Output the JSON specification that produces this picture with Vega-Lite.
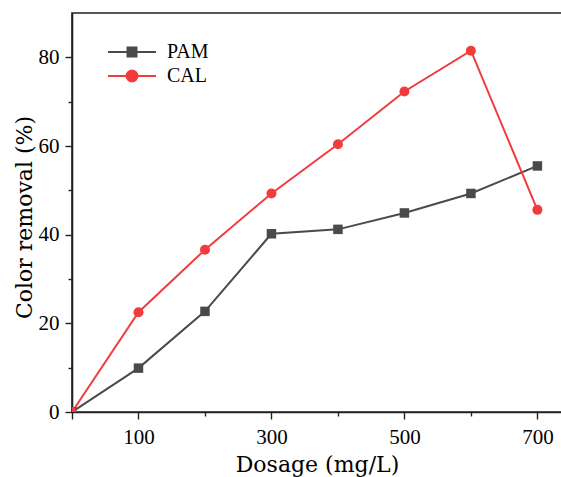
{
  "$schema": "https://vega.github.io/schema/vega-lite/v6.json",
  "autosize": {"type": "none"},
  "padding": {"left": 72, "top": 13, "right": 0, "bottom": 65},
  "width": 490,
  "height": 399,
  "background": "white",
  "config": {
    "view": {"stroke": "#222222", "strokeWidth": 1.6},
    "axis": {
      "domainColor": "#222222",
      "domainWidth": 1.6,
      "tickColor": "#222222",
      "tickWidth": 1.4,
      "labelColor": "#000000",
      "titleColor": "#000000",
      "labelFont": "Liberation Serif",
      "labelFontSize": 21,
      "titleFont": "DejaVu Serif",
      "titleFontSize": 22,
      "titleFontWeight": "normal",
      "grid": false,
      "zindex": 1
    }
  },
  "data": {
    "values": [
      {"Dosage": 0, "Removal": 0, "Series": "PAM"},
      {"Dosage": 100, "Removal": 9.9, "Series": "PAM"},
      {"Dosage": 200, "Removal": 22.7, "Series": "PAM"},
      {"Dosage": 300, "Removal": 40.2, "Series": "PAM"},
      {"Dosage": 400, "Removal": 41.2, "Series": "PAM"},
      {"Dosage": 500, "Removal": 44.9, "Series": "PAM"},
      {"Dosage": 600, "Removal": 49.3, "Series": "PAM"},
      {"Dosage": 700, "Removal": 55.5, "Series": "PAM"},
      {"Dosage": 0, "Removal": 0, "Series": "CAL"},
      {"Dosage": 100, "Removal": 22.5, "Series": "CAL"},
      {"Dosage": 200, "Removal": 36.6, "Series": "CAL"},
      {"Dosage": 300, "Removal": 49.3, "Series": "CAL"},
      {"Dosage": 400, "Removal": 60.4, "Series": "CAL"},
      {"Dosage": 500, "Removal": 72.3, "Series": "CAL"},
      {"Dosage": 600, "Removal": 81.5, "Series": "CAL"},
      {"Dosage": 700, "Removal": 45.6, "Series": "CAL"}
    ]
  },
  "resolve": {"axis": {"x": "independent", "y": "independent"}},
  "layer": [
    {
      "mark": {"type": "line", "strokeWidth": 2, "clip": true},
      "encoding": {
        "x": {
          "field": "Dosage", "type": "quantitative",
          "scale": {"domain": [0, 737], "nice": false, "zero": false},
          "axis": {"orient": "bottom", "values": [0, 100, 300, 500, 700], "labelExpr": "datum.value === 0 ? '' : datum.label", "tickSize": 7, "labelPadding": 7, "title": "Dosage (mg/L)", "titlePadding": 7}
        },
        "y": {
          "field": "Removal", "type": "quantitative",
          "scale": {"domain": [0, 90], "nice": false},
          "axis": {"orient": "left", "values": [0, 20, 40, 60, 80], "tickSize": 7, "labelPadding": 6, "title": "Color removal (%)", "titlePadding": 2, "titleY": 204}
        },
        "color": {
          "field": "Series", "type": "nominal",
          "scale": {"domain": ["PAM", "CAL"], "range": ["#4a4a4a", "#f23c3c"]},
          "legend": {
            "orient": "none",
            "legendX": 49,
            "legendY": 28,
            "title": null,
            "padding": 0,
            "symbolSize": 400,
            "symbolStrokeWidth": 2,
            "labelOffset": 24,
            "rowPadding": 3,
            "labelFont": "Liberation Serif",
            "labelFontSize": 20,
            "labelColor": "#000000",
            "encode": {
              "symbols": {
                "update": {
                  "shape": {"signal": "datum.value === 'PAM' ? 'M-2.4,0H2.4M-0.45,-0.45H0.45V0.45H-0.45Z' : 'M-2.4,0H2.4M0.55,0A0.55,0.55,0,1,1,-0.55,0A0.55,0.55,0,1,1,0.55,0Z'"},
                  "fill": {"signal": "datum.value === 'PAM' ? '#4a4a4a' : '#f23c3c'"},
                  "stroke": {"signal": "datum.value === 'PAM' ? '#4a4a4a' : '#f23c3c'"},
                  "strokeWidth": {"value": 2},
                  "opacity": {"value": 1}
                }
              }
            }
          }
        }
      }
    },
    {
      "transform": [{"filter": "datum.Series === 'PAM'"}],
      "mark": {"type": "point", "shape": "square", "filled": true, "opacity": 1, "size": 90, "clip": true},
      "encoding": {
        "x": {
          "field": "Dosage", "type": "quantitative",
          "scale": {"domain": [0, 737], "nice": false, "zero": false},
          "axis": {"orient": "bottom", "values": [200, 400, 600], "tickSize": 4, "labels": false, "domain": false, "title": null}
        },
        "y": {
          "field": "Removal", "type": "quantitative",
          "scale": {"domain": [0, 90], "nice": false},
          "axis": {"orient": "left", "values": [10, 30, 50, 70], "tickSize": 4, "labels": false, "domain": false, "title": null}
        },
        "color": {"field": "Series", "type": "nominal", "legend": null}
      }
    },
    {
      "transform": [{"filter": "datum.Series === 'CAL'"}],
      "mark": {"type": "point", "shape": "circle", "filled": true, "opacity": 1, "size": 100, "clip": true},
      "encoding": {
        "x": {"field": "Dosage", "type": "quantitative", "axis": null},
        "y": {"field": "Removal", "type": "quantitative", "axis": null},
        "color": {"field": "Series", "type": "nominal", "legend": null}
      }
    }
  ]
}
